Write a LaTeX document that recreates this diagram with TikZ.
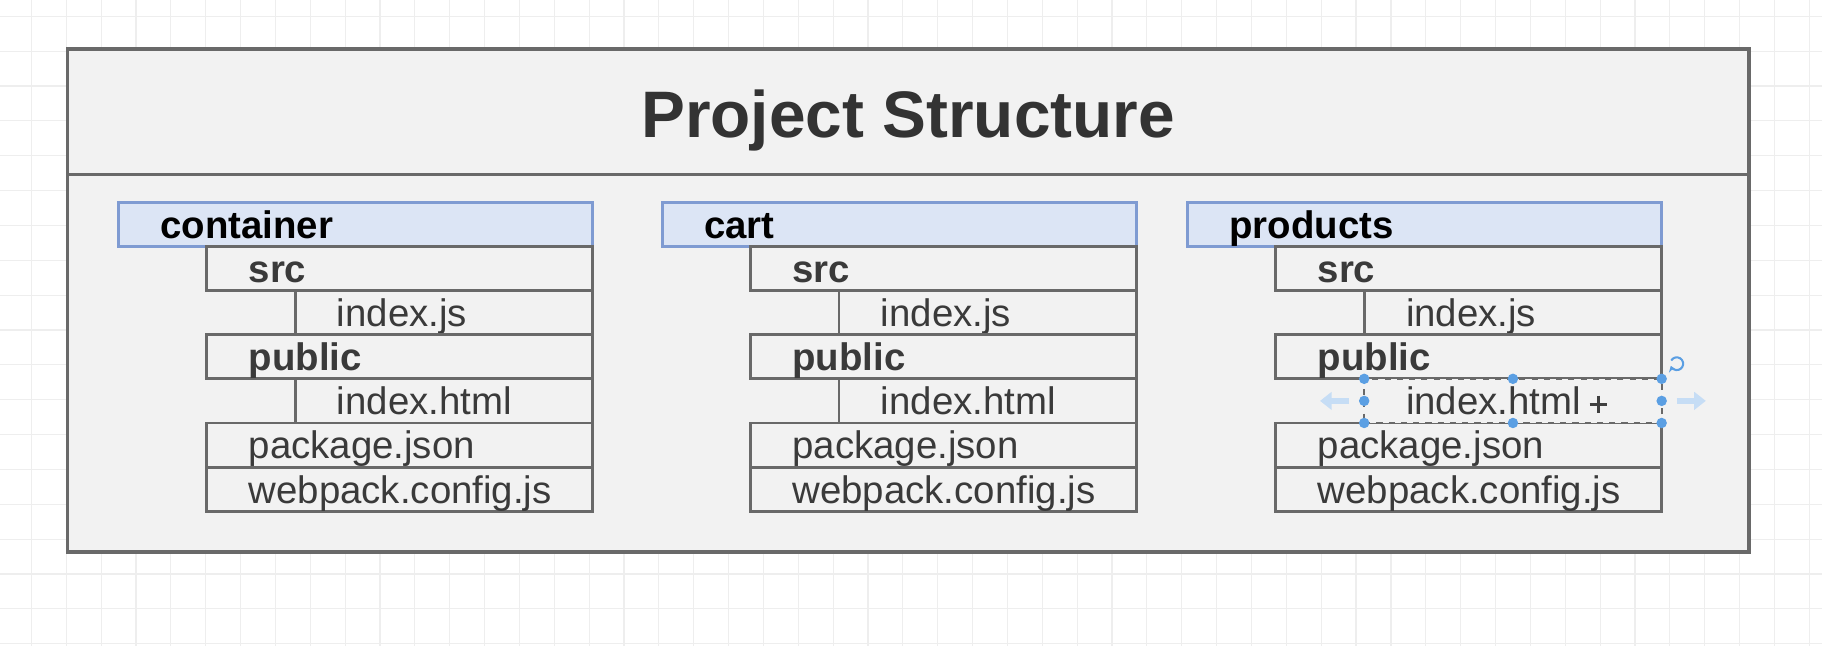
\documentclass[tikz,border=0pt]{standalone}
\usepackage{fontspec}
\setmainfont{Liberation Sans}
\usepackage{xcolor}
\definecolor{gridcolor}{HTML}{EEEEEE}
\definecolor{boxfill}{HTML}{F2F2F2}
\definecolor{boxline}{HTML}{696969}
\definecolor{headfill}{HTML}{DCE5F5}
\definecolor{headline}{HTML}{7F9BD2}
\definecolor{rowtext}{HTML}{3A3A3A}
\definecolor{handlecolor}{HTML}{5B9FE3}
\colorlet{handlearrowcolor}{handlecolor!35}
\usetikzlibrary{
  positioning,
  arrows.meta,
}
\newcommand{\rowfont}{\fontsize{18.8pt}{22pt}\selectfont}
\newcommand{\titlefont}{\fontsize{32.2pt}{38pt}\selectfont\bfseries}
\tikzstyle{outerbox}=[draw=boxline, fill=boxfill, line width=0.6mm, rectangle, inner sep=0pt, outer sep=0pt, minimum width=289.4mm]
\tikzstyle{basicbox}=[draw=boxline, fill=boxfill, line width=0.5mm, rectangle, inner sep=0pt, outer sep=0pt, anchor=north east, minimum height=7.6mm, align=left, text height=5.6mm, text depth=0.8mm, font=\rowfont, text=rowtext]
\tikzstyle{headbox}=[basicbox, draw=headline, fill=headfill, anchor=north west, minimum width=81.6mm, text width=67.2mm, font=\rowfont\bfseries, text=black]
\tikzstyle{dirbox}=[basicbox, minimum width=66.4mm, text width=52mm, font=\rowfont\bfseries]
\tikzstyle{filebox}=[basicbox, minimum width=66.4mm, text width=52mm]
\tikzstyle{subfilebox}=[basicbox, minimum width=51.2mm, text width=36.8mm]
\tikzstyle{handle}=[fill=handlecolor, draw=none]

\begin{document}
\begin{tikzpicture}[x=0.2mm, y=-0.2mm]
	% canvas
	\fill[white] (0,0) rectangle (1568,556);
	\useasboundingbox (0,0) rectangle (1568,556);
	\foreach \gx in {27,57,...,1568} \draw[gridcolor, line width=0.2mm] (\gx,0) -- (\gx,556);
	\foreach \gy in {14,44,...,556} \draw[gridcolor, line width=0.2mm] (0,\gy) -- (1568,\gy);
	% frame
	\node (titlebox) [outerbox, anchor=north west, minimum height=21.6mm, font=\titlefont, text=black!80, text height=9.0mm, text depth=0pt] at (58,42) {Project Structure};
	\node (bodybox) [outerbox, anchor=north, minimum height=65mm] at (titlebox.south) {};
	% container
	\node (cont) [headbox] at (102,174) {container};
	\node (cont-src) [dirbox] at (cont.south east) {src};
	\node (cont-srcjs) [subfilebox] at (cont-src.south east) {index.js};
	\node (cont-pub) [dirbox] at (cont-srcjs.south east) {public};
	\node (cont-html) [subfilebox] at (cont-pub.south east) {index.html};
	\node (cont-pkg) [filebox] at (cont-html.south east) {package.json};
	\node (cont-wp) [filebox] at (cont-pkg.south east) {webpack.config.js};
	% cart
	\node (cart) [headbox] at (570,174) {cart};
	\node (cart-src) [dirbox] at (cart.south east) {src};
	\node (cart-srcjs) [subfilebox] at (cart-src.south east) {index.js};
	\node (cart-pub) [dirbox] at (cart-srcjs.south east) {public};
	\node (cart-html) [subfilebox] at (cart-pub.south east) {index.html};
	\node (cart-pkg) [filebox] at (cart-html.south east) {package.json};
	\node (cart-wp) [filebox] at (cart-pkg.south east) {webpack.config.js};
	% products
	\node (prod) [headbox] at (1022,174) {products};
	\node (prod-src) [dirbox] at (prod.south east) {src};
	\node (prod-srcjs) [subfilebox] at (prod-src.south east) {index.js};
	\node (prod-pub) [dirbox] at (prod-srcjs.south east) {public};
	\node (prod-pkg) [filebox] at (prod-pub.south east) [yshift=-7.6mm] {package.json};
	\node (prod-wp) [filebox] at (prod-pkg.south east) {webpack.config.js};
	\node (prod-html) [subfilebox, dashed, line width=0.35mm] at (prod-pub.south east) {index.html};
	% selection handles
	\foreach \a in {north west, north, north east, east, south east, south, south west, west}
		\fill[handle] (prod-html.\a) circle (0.9mm);
	\draw[handlearrowcolor, line width=0.9mm, -{Triangle[length=2mm, width=3mm]}] ([xshift=-2.6mm]prod-html.west) -- ++(-5mm,0);
	\draw[handlearrowcolor, line width=0.9mm, -{Triangle[length=2mm, width=3mm]}] ([xshift=2.6mm]prod-html.east) -- ++(5mm,0);
	\draw[handlecolor, line width=0.35mm, -{Stealth[length=1mm, width=1.4mm]}] ([shift={(1.65mm,3.15mm)}]prod-html.north east) arc (150:-160:1.1mm);
	\draw[black!75, line width=0.6mm] ([shift={(-12.4mm,-0.6mm)}]prod-html.east) -- ++(3mm,0);
	\draw[black!75, line width=0.6mm] ([shift={(-10.9mm,0.9mm)}]prod-html.east) -- ++(0,-3mm);
\end{tikzpicture}
\end{document}
